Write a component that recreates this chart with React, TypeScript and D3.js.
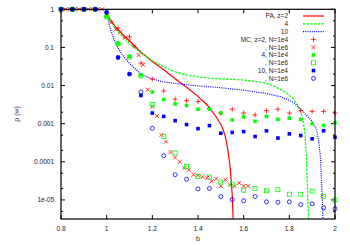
import React from "react";
import * as d3 from "d3";

// ---------- data ----------
const paZ2: [number, number][] = [
  [0.8, 1], [0.9, 1], [0.995, 1], [1.0, 0.9], [1.005, 0.72], [1.015, 0.55], [1.04, 0.34], [1.07, 0.22],
  [1.1, 0.15], [1.15, 0.075], [1.2, 0.043], [1.25, 0.026], [1.3, 0.015], [1.35, 0.009], [1.4, 0.0052],
  [1.44, 0.0031], [1.48, 0.0015], [1.5, 0.00095], [1.51, 0.0007], [1.52, 0.00045], [1.53, 0.00022],
  [1.54, 0.00008], [1.545, 0.000035], [1.55, 0.000013], [1.554, 0.000003],
];
const paZ4: [number, number][] = [
  [0.8, 1], [0.995, 1], [1.0, 0.9], [1.005, 0.68], [1.02, 0.45], [1.05, 0.26], [1.1, 0.125], [1.15, 0.072],
  [1.2, 0.045], [1.25, 0.031], [1.3, 0.023], [1.35, 0.019], [1.4, 0.017], [1.45, 0.0157], [1.5, 0.015],
  [1.55, 0.0145], [1.6, 0.014], [1.65, 0.0128], [1.7, 0.0115], [1.73, 0.0098], [1.76, 0.008], [1.79, 0.0063],
  [1.82, 0.0043], [1.84, 0.0028], [1.855, 0.0016], [1.865, 0.0008], [1.87, 0.00045], [1.874, 0.00015],
  [1.877, 0.00005], [1.881, 0.00001], [1.885, 0.000003],
];
const paZ10: [number, number][] = [
  [0.8, 1], [0.995, 1], [1.0, 0.9], [1.005, 0.6], [1.015, 0.32], [1.03, 0.17], [1.05, 0.097], [1.07, 0.062],
  [1.1, 0.038], [1.15, 0.02], [1.2, 0.0148], [1.25, 0.0125], [1.3, 0.0115], [1.35, 0.0105], [1.4, 0.0098],
  [1.45, 0.0093], [1.5, 0.0088], [1.55, 0.0081], [1.6, 0.0076], [1.65, 0.0068], [1.7, 0.0062], [1.76, 0.0051],
  [1.8, 0.0041], [1.82, 0.0035], [1.86, 0.0021], [1.9, 0.00115], [1.92, 0.0007], [1.93, 0.0003],
  [1.936, 0.00013], [1.94, 0.00004], [1.943, 0.000017], [1.947, 0.000003],
];

const mcB = [0.8, 0.85, 0.9, 0.95, 1.0, 1.05, 1.1, 1.15, 1.2, 1.25, 1.3, 1.35, 1.4, 1.45, 1.5, 1.55, 1.6, 1.65, 1.7, 1.75, 1.8, 1.85, 1.9, 1.95, 2.0];
const mcFineB = [0.8, 0.82, 0.84, 0.86, 0.88, 0.9, 0.92, 0.94, 0.96, 0.98, 1.0, 1.02, 1.04, 1.06, 1.08, 1.1, 1.12, 1.14, 1.16, 1.18, 1.2, 1.22, 1.24, 1.26, 1.28, 1.3, 1.32, 1.34, 1.36, 1.38, 1.4, 1.42, 1.44, 1.46, 1.48, 1.5, 1.52, 1.54, 1.56, 1.58, 1.6, 1.62];

const mcZ2N4 = [1, 1, 1, 1, 0.66, 0.32, 0.19, 0.039, 0.0148, 0.0072, 0.0044, 0.004, 0.0038, 0.0025, 0.0019, 0.0024, 0.0019, 0.0017, 0.0022, 0.0024, 0.0019, 0.0022, 0.0021, 0.0021, 0.0019];
const mcZ2N6 = [1, 1, 1, 1, 1, 1, 1, 1, 1, 1, 0.75, 0.45, 0.3, 0.25, 0.18, 0.148, 0.105, 0.063, 0.035, 0.0078, 0.0028, 0.0016, 0.00051, 0.00034, 0.00018, 0.00013, 0.0001, 0.000069, 0.000062, 0.000046, 0.000044, 0.00004, 0.000038, 0.000031, 0.000036, 0.000023, 0.000034, 0.000025, 0.000023, 0.000028, 0.000023, 0.000023];
const mcZ4N4 = [1, 1, 1, 1, 0.65, 0.129, 0.058, 0.019, 0.0068, 0.0043, 0.0033, 0.003, 0.0024, 0.0024, 0.0019, 0.00126, 0.0015, 0.00115, 0.00155, 0.0013, 0.0014, 0.0013, 0.001, 0.0009, 0.00105];
const mcZ4N6 = [1, 1, 1, 1, 0.63, 0.125, 0.056, 0.018, 0.0032, 0.00046, 0.00017, 0.000076, 0.000041, 0.00004, 0.0000295, 0.000026, 0.000018, 0.00002, 0.0000174, 0.0000186, 0.0000141, 0.0000141, 0.000017, 0.0000123, 0.00001];
const mcZ10N4 = [1, 1, 1, 1, 0.83, 0.054, 0.02, 0.0055, 0.0019, 0.00155, 0.0012, 0.00095, 0.00074, 0.00089, 0.00056, 0.00059, 0.00062, 0.00046, 0.00065, 0.00042, 0.00054, 0.00049, 0.0004, 0.00065, 0.00044];
const mcZ10N6 = [1, 1, 1, 1, 0.83, 0.055, 0.02, 0.0068, 0.00076, 0.000145, 0.000046, 0.000035, 0.0000195, 0.00002, 0.0000123, 0.0000102, 0.0000095, 0.0000123, 0.0000089, 0.0000087, 0.0000089, 0.0000076, 0.0000079, 0.0000062, 0.0000059];

const xTicks = [0.8, 1, 1.2, 1.4, 1.6, 1.8, 2];
const yTicks = [1, 0.1, 0.01, 0.001, 0.0001, 0.00001];
const yTickLabels = ["1", "0.1", "0.01", "0.001", "0.0001", "1e-05"];
const legendLabels = ["PA, z=2", "4", "10", "MC, z=2, N=1e4", ", N=1e6", "4, N=1e4", ", N=1e6", "10, N=1e4", ", N=1e6"];

const RED = "#ff0000";
const GREEN = "#00ff00";
const BLUE = "#0000ff";
const FONT = "'Liberation Sans', Arial, sans-serif";

type MarkerKind = "plus" | "cross" | "fsq" | "osq" | "ocirc";

function Marker({ kind, x, y, color }: { kind: MarkerKind; x: number; y: number; color: string }) {
  if (kind === "plus") {
    const h = 2.5;
    return <path d={`M${x - h},${y}H${x + h}M${x},${y - h}V${y + h}`} stroke={color} strokeWidth={0.8} fill="none" />;
  }
  if (kind === "cross") {
    const h = 2;
    return <path d={`M${x - h},${y - h}L${x + h},${y + h}M${x - h},${y + h}L${x + h},${y - h}`} stroke={color} strokeWidth={0.8} fill="none" />;
  }
  if (kind === "fsq") {
    const h = 1.8;
    return <rect x={x - h} y={y - h} width={2 * h} height={2 * h} fill={color} />;
  }
  if (kind === "osq") {
    const h = 2;
    return <rect x={x - h} y={y - h} width={2 * h} height={2 * h} fill="none" stroke={color} strokeWidth={0.8} />;
  }
  return <circle cx={x} cy={y} r={2} fill="none" stroke={color} strokeWidth={0.8} />;
}

export default function App() {
  const W = 350, H = 245;
  const L = 61, R = 335, T = 9.3, B = 219;
  const x = d3.scaleLinear().domain([0.8, 2]).range([L, R]);
  const y = d3.scaleLog().domain([Math.pow(10, -5.5), 1]).range([B, T]);
  const line = d3.line<[number, number]>().x((d) => x(d[0])).y((d) => y(d[1]));

  const minorY: number[] = [];
  for (let e = -6; e <= -1; e++) {
    for (const m of [2, 5]) {
      const v = m * Math.pow(10, e);
      if (v > Math.pow(10, -5.5) && v < 1) minorY.push(v);
    }
  }

  const curves = [
    { data: paZ2, color: RED, dash: undefined as string | undefined },
    { data: paZ4, color: GREEN, dash: "2.5,1.2" },
    { data: paZ10, color: BLUE, dash: "1,1.2" },
  ];
  const series: { b: number[]; v: number[]; kind: MarkerKind; color: string }[] = [
    { b: mcB, v: mcZ2N4, kind: "plus", color: RED },
    { b: mcFineB, v: mcZ2N6, kind: "cross", color: RED },
    { b: mcB, v: mcZ4N4, kind: "fsq", color: GREEN },
    { b: mcB, v: mcZ4N6, kind: "osq", color: GREEN },
    { b: mcB, v: mcZ10N4, kind: "fsq", color: BLUE },
    { b: mcB, v: mcZ10N6, kind: "ocirc", color: BLUE },
  ];

  const legendY = (i: number) => 16 + i * 7.8;

  return (
    <svg width={W} height={H} style={{ display: "block", position: "absolute", left: 0, top: 0 }} fontFamily={FONT}>
      <defs>
        <clipPath id="plotclip">
          <rect x={L} y={T} width={R - L} height={B - T} />
        </clipPath>
      </defs>
      <rect x={0} y={0} width={W} height={H} fill="#fff" />

      {/* ticks */}
      {xTicks.map((t) => (
        <g key={"xt" + t}>
          <line x1={x(t)} x2={x(t)} y1={B} y2={B - 4} stroke="#000" strokeWidth={1} />
          <line x1={x(t)} x2={x(t)} y1={T} y2={T + 4} stroke="#000" strokeWidth={1} />
          <text x={x(t)} y={230.5} fontSize={6.5} textAnchor="middle" fill="#222">{t === 1 || t === 2 ? String(t) : t.toFixed(1)}</text>
        </g>
      ))}
      {yTicks.map((t, i) => (
        <g key={"yt" + t}>
          <line x1={L} x2={L + 4} y1={y(t)} y2={y(t)} stroke="#000" strokeWidth={1} />
          <line x1={R} x2={R - 4} y1={y(t)} y2={y(t)} stroke="#000" strokeWidth={1} />
          <text x={54} y={y(t) + 2.3} fontSize={6.5} textAnchor="end" fill="#222">{yTickLabels[i]}</text>
        </g>
      ))}
      {minorY.map((t) => (
        <g key={"my" + t}>
          <line x1={L} x2={L + 2} y1={y(t)} y2={y(t)} stroke="#000" strokeWidth={1} />
          <line x1={R} x2={R - 2} y1={y(t)} y2={y(t)} stroke="#000" strokeWidth={1} />
        </g>
      ))}

      {/* curves */}
      <g clipPath="url(#plotclip)">
        {curves.map((c, i) => (
          <path key={"c" + i} d={line(c.data) || ""} fill="none" stroke={c.color} strokeWidth={1.2} strokeDasharray={c.dash} />
        ))}
      </g>

      {/* MC points */}
      <g>
        {series.map((s, si) =>
          s.b.map((b, j) => (
            <Marker key={`m${si}-${j}`} kind={s.kind} x={x(b)} y={y(s.v[j])} color={s.color} />
          ))
        )}
      </g>

      {/* frame */}
      <rect x={L} y={T} width={R - L} height={B - T} fill="none" stroke="#000" strokeWidth={1.2} />

      {/* legend */}
      {legendLabels.map((lab, i) => (
        <text key={"lg" + i} x={288} y={legendY(i) + 2.3} fontSize={6.5} textAnchor="end" fill="#222">{lab}</text>
      ))}
      {curves.map((c, i) => (
        <line key={"ll" + i} x1={303} x2={324} y1={legendY(i)} y2={legendY(i)} stroke={c.color} strokeWidth={1.2} strokeDasharray={c.dash} />
      ))}
      {series.map((s, i) => (
        <Marker key={"lm" + i} kind={s.kind} x={313.5} y={legendY(i + 3)} color={s.color} />
      ))}

      {/* axis labels */}
      <text x={198} y={241} fontSize={7} textAnchor="middle" fill="#222">b</text>
      <text transform="translate(19,114) rotate(-90)" fontSize={7} textAnchor="middle" fill="#222">ρ (∞)</text>
    </svg>
  );
}
